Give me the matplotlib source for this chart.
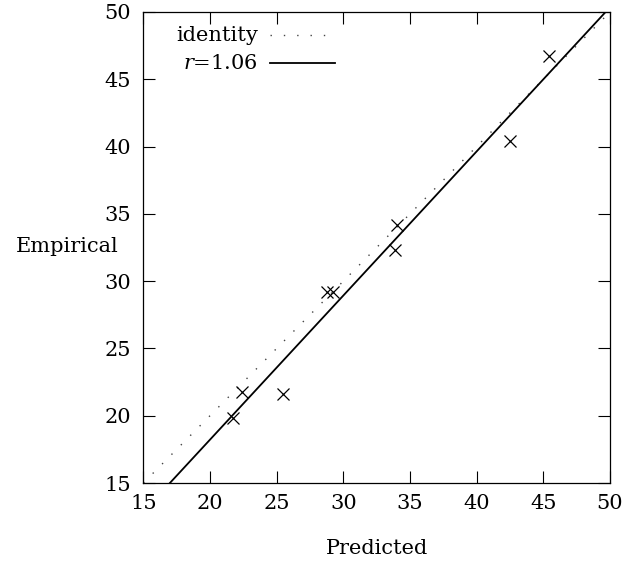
import matplotlib
matplotlib.use("Agg")
import matplotlib.pyplot as plt
import numpy as np

# Data
predicted = [21.7, 22.4, 25.5, 28.8, 29.2, 33.9, 34.0, 42.5, 45.4]
empirical = [19.8, 21.8, 21.6, 29.2, 29.2, 32.3, 34.2, 40.4, 46.75]
fit_slope = 1.071
fit_intercept = -3.2
fit_label = r"$r$=1.06"
identity_label = "identity"
ticks = [15, 20, 25, 30, 35, 40, 45, 50]

plt.rcParams['font.family'] = ['DejaVu Serif']
plt.rcParams['mathtext.fontset'] = 'dejavuserif'
FS = 15

fig = plt.figure(figsize=(6.28, 5.65), dpi=100)
ax = fig.add_axes([0.2282, 0.1451, 0.7431, 0.8337])

xl = np.array([15.0, 50.0])
ax.plot(xl, xl, color='#444444', lw=1.0, linestyle=(0, (1, 8.6)), zorder=1)
ax.plot(xl, fit_slope * xl + fit_intercept, color='black', lw=1.3, zorder=2)
ax.plot(predicted, empirical, linestyle='none', marker='x', markersize=9.2,
        markeredgewidth=0.9, color='black', zorder=3)

ax.set_xlim(15, 50)
ax.set_ylim(15, 50)
ax.set_xticks(ticks)
ax.set_yticks(ticks)
ax.tick_params(direction='in', length=8.5, width=0.8, top=True, right=True,
               labelsize=FS, colors='black')
ax.tick_params(axis='x', pad=8)
ax.tick_params(axis='y', pad=9)
for s in ax.spines.values():
    s.set_linewidth(0.9)

ax.text(-0.054, 0.502, "Empirical", transform=ax.transAxes, ha='right',
        va='center', fontsize=FS)
ax.text(0.5008, -0.14, "Predicted", transform=ax.transAxes, ha='center',
        va='center', fontsize=FS)

# key
ax.text(0.2458, 0.951, identity_label, transform=ax.transAxes, ha='right',
        va='center', fontsize=FS)
ax.text(0.2458, 0.891, fit_label, transform=ax.transAxes, ha='right',
        va='center', fontsize=FS)
ax.plot([0.2715, 0.4107], [0.951, 0.951], transform=ax.transAxes,
        color='#444444', lw=1.0, linestyle=(0, (1, 8.6)))
ax.plot([0.2715, 0.4107], [0.891, 0.891], transform=ax.transAxes,
        color='black', lw=1.3)

fig.savefig("out.png", dpi=100)
